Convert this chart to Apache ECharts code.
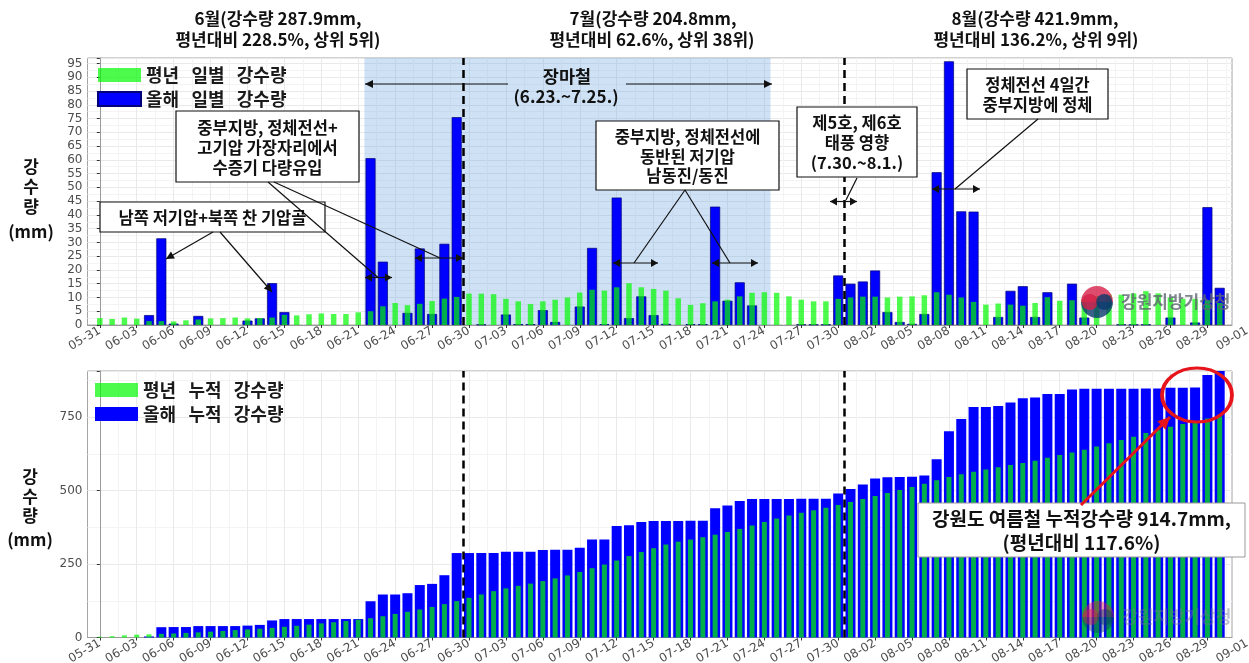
<!DOCTYPE html>
<html><head><meta charset="utf-8">
<script src="https://cdn.jsdelivr.net/npm/echarts@6.0.0/dist/echarts.min.js"></script>
<style>html,body{margin:0;padding:0;background:#fff}#c{width:1249px;height:663px}</style>
</head><body><div id="c"></div>
<script>
// ---------------- data ----------------
const dates = ['05-31',
 '06-01','06-02','06-03','06-04','06-05','06-06','06-07','06-08','06-09','06-10','06-11','06-12','06-13','06-14','06-15',
 '06-16','06-17','06-18','06-19','06-20','06-21','06-22','06-23','06-24','06-25','06-26','06-27','06-28','06-29','06-30',
 '07-01','07-02','07-03','07-04','07-05','07-06','07-07','07-08','07-09','07-10','07-11','07-12','07-13','07-14','07-15',
 '07-16','07-17','07-18','07-19','07-20','07-21','07-22','07-23','07-24','07-25','07-26','07-27','07-28','07-29','07-30','07-31',
 '08-01','08-02','08-03','08-04','08-05','08-06','08-07','08-08','08-09','08-10','08-11','08-12','08-13','08-14','08-15',
 '08-16','08-17','08-18','08-19','08-20','08-21','08-22','08-23','08-24','08-25','08-26','08-27','08-28','08-29','08-30'];
const tickLabels = ['05-31','06-03','06-06','06-09','06-12','06-15','06-18','06-21','06-24','06-27','06-30',
 '07-03','07-06','07-09','07-12','07-15','07-18','07-21','07-24','07-27','07-30',
 '08-02','08-05','08-08','08-11','08-14','08-17','08-20','08-23','08-26','08-29','09-01'];
// 올해 일별 강수량 (mm)
const thisYearDaily = [
 0,0,0,0,3.6,31.5,0.5,0,3.3,0,0,0,1.6,2.4,15.2,4.7,0,0,0,0,0,0,60.6,23.0,0,4.4,27.8,4.0,29.5,75.5,
 0,0.2,0,3.8,0.3,0.3,5.4,1.1,0,6.7,28.0,0.3,46.3,2.5,10.4,3.6,0.4,0,0.3,0.3,43.0,8.8,15.5,7.1,0,0,0,0.2,0.2,0.2,18.0,
 15.0,15.8,19.8,4.7,1.1,0.4,4.0,55.5,95.8,41.3,41.2,0,2.9,12.4,14.1,2.9,11.9,0,15.0,2.7,0,0,0.2,0.2,0.2,0,2.7,0,0.9,42.8,13.5];
// 평년 일별 강수량 (mm)
const normalDaily = [
 2.5,2.2,2.7,2.3,1.4,1.4,1.3,1.7,2.0,2.4,2.5,2.7,2.4,2.5,2.7,3.7,3.5,3.9,4.2,4.0,4.0,4.6,5.0,6.8,8.0,7.2,7.7,8.7,9.6,10.2,
 11.4,11.4,11.2,9.5,8.6,7.6,8.6,9.2,10.0,11.8,12.8,12.5,13.7,15.2,13.7,13.1,12.5,9.7,7.3,7.9,8.6,9.2,10.4,11.7,11.9,11.7,10.4,9.2,8.6,8.6,9.5,
 10.0,10.3,10.3,10.0,10.3,10.4,10.8,11.9,11.0,10.0,8.4,7.4,7.8,7.4,7.0,8.0,10.1,8.8,9.0,9.5,10.5,11.0,11.0,11.5,12.3,11.5,10.0,9.5,9.5,9.0,8.0];
const rainySeason = ['06-22','07-24'];
const monthEnds = ['06-29','07-30'];
const names = {
  nDaily:'평년   일별   강수량', yDaily:'올해   일별   강수량',
  nCum:'평년   누적   강수량', yCum:'올해   누적   강수량'
};

// ---------------- derived ----------------
const cum = arr => { let s = 0; return arr.map(v => +(s += v).toFixed(1)); };
const thisYearCum = cum(thisYearDaily);
const normalCum = cum(normalDaily);
const pts = arr => arr.map((v, i) => [i, v === 0 ? null : v]);
const tickPos = tickLabels.map((_, k) => 3 * k);
const minorPos = tickPos.map(p => p + 1.5);
const xMin = -1, xMax = dates.length;
const ms = monthEnds.map(d => ({xAxis: dates.indexOf(d) + 0.5}));
const rs = [[{xAxis: dates.indexOf(rainySeason[0]) - 0.5}, {xAxis: dates.indexOf(rainySeason[1]) + 0.5}]];

const FONT_K = "'Noto Sans CJK KR','Noto Sans',sans-serif";
const FONT_N = "'DejaVu Sans',sans-serif";
const BLUE = '#0000ff';
const GREEN = 'rgba(0,250,0,0.7)';

function xMain(g) {
  return {type:'value', gridIndex:g, min:xMin, max:xMax, position:'bottom',
    axisLine:{show:true, onZero:false, lineStyle:{color:'#9a9a9a'}},
    axisTick:{show:true, length:3, lineStyle:{color:'#333'}, customValues:tickPos},
    axisLabel:{customValues:tickPos, rotate:30, margin:5, fontFamily:FONT_N, fontSize:12, color:'#4d4d4d',
      formatter: v => tickLabels[Math.round(v / 3)] || ''},
    splitLine:{show:true, lineStyle:{color:'#e9e9e9', width:1}}};
}
function xAux(g) {
  return {type:'value', gridIndex:g, min:xMin, max:xMax, position:'top',
    axisLine:{show:false}, axisTick:{show:false, customValues:minorPos}, axisLabel:{show:false},
    splitLine:{show:true, lineStyle:{color:'#f3f3f3', width:1}}};
}
function yAx(g, max, interval) {
  return {type:'value', gridIndex:g, min:0, max:max, interval:interval,
    axisLine:{show:true, lineStyle:{color:'#9a9a9a'}},
    axisTick:{show:true, length:3, lineStyle:{color:'#333'}},
    axisLabel:{margin:5, fontFamily:FONT_N, fontSize:12, color:'#4d4d4d',
      formatter: v => (Math.abs(v / interval - Math.round(v / interval)) < 1e-6 ? String(v) : '')},
    splitLine:{show:true, lineStyle:{color:'#e9e9e9'}},
    minorTick:{show:false, splitNumber:2},
    minorSplitLine:{show:true, lineStyle:{color:'#f4f4f4'}}};
}
const legendBase = {orient:'vertical', icon:'rect', itemWidth:43, itemHeight:14, itemGap:6,
  textStyle:{fontSize:18, fontWeight:'bold', color:'#1a1a1a', fontFamily:FONT_K}, selectedMode:false};

const chart = echarts.init(document.getElementById('c'), null, {renderer:'canvas'});
chart.setOption({
  animation:false,
  textStyle:{fontFamily:FONT_K},
  grid:[
    {left:87.5, right:17, top:58, bottom:338, show:true, borderColor:'#a5a5a5', borderWidth:1, outerBoundsMode:'none'},
    {left:87.5, right:17, top:371, bottom:25.5, show:true, borderColor:'#a5a5a5', borderWidth:1, outerBoundsMode:'none'}
  ],
  xAxis:[xMain(0), xAux(0), xMain(1), xAux(1)],
  yAxis:[yAx(0, 97, 5), yAx(1, 'dataMax', 250)],
  legend:[
    Object.assign({}, legendBase, {data:[names.nDaily, names.yDaily], left:92, top:61}),
    Object.assign({}, legendBase, {data:[names.nCum, names.yCum], left:90, top:376})
  ],
  series:[
    {type:'line', xAxisIndex:0, yAxisIndex:0, data:[], z:1, silent:true,
      markArea:{silent:true, itemStyle:{color:'rgba(110,165,225,0.33)'}, data:rs}},
    {name:names.yDaily, type:'bar', xAxisIndex:0, yAxisIndex:0, data:pts(thisYearDaily), barWidth:10, z:3,
      itemStyle:{color:BLUE, borderColor:'#00007a', borderWidth:0.7},
      markLine:{silent:true, symbol:['none','none'], label:{show:false}, lineStyle:{color:'#000', type:[8,5], width:2.5}, data:ms}},
    {name:names.nDaily, type:'bar', xAxisIndex:1, yAxisIndex:0, data:pts(normalDaily), barWidth:5.5, z:4,
      itemStyle:{color:GREEN}},
    {name:names.yCum, type:'bar', xAxisIndex:2, yAxisIndex:1, data:pts(thisYearCum), barWidth:10, z:3,
      itemStyle:{color:BLUE},
      markLine:{silent:true, symbol:['none','none'], label:{show:false}, lineStyle:{color:'#000', type:[8,5], width:2.5}, data:ms}},
    {name:names.nCum, type:'bar', xAxisIndex:3, yAxisIndex:1, data:pts(normalCum), barWidth:5, z:4,
      itemStyle:{color:GREEN}}
  ]
});

// ---------------- annotations ----------------
const G = [];
function txt(x, y, text, o) {
  o = o || {};
  G.push({type:'text', x:x, y:y, z:120, rotation:o.rot || 0, style:{text:text, align:o.align || 'center', verticalAlign:o.va || 'middle',
    fontSize:o.size || 16.5, fontWeight:o.weight || 'bold', fontFamily:o.family || FONT_K, fill:o.color || '#111',
    lineHeight:o.lh || 20, opacity:o.opacity == null ? 1 : o.opacity}});
}
function box(x, y, w, h, text, o) {
  o = o || {};
  G.push({type:'rect', z:110, shape:{x:x, y:y, width:w, height:h}, style:{fill:'#fff', stroke:o.stroke || '#111', lineWidth:o.lw || 1.2}});
  txt(x + w / 2, y + h / 2 + 1, text, o);
}
function arrow(x1, y1, x2, y2, o) {
  o = o || {};
  const c = o.color || '#111', lw = o.lw || 1.2, hl = o.hl || 8, hw = o.hw || 4;
  G.push({type:'line', z:115, shape:{x1:x1, y1:y1, x2:x2, y2:y2}, style:{stroke:c, lineWidth:lw}});
  const head = (xa, ya, xb, yb) => {
    const dx = xb - xa, dy = yb - ya, L = Math.hypot(dx, dy), ux = dx / L, uy = dy / L;
    const bx = xb - ux * hl, by = yb - uy * hl;
    G.push({type:'polygon', z:116, shape:{points:[[xb, yb], [bx - uy * hw, by + ux * hw], [bx + uy * hw, by - ux * hw]]}, style:{fill:c}});
  };
  if (o.end) head(x1, y1, x2, y2);
  if (o.start) head(x2, y2, x1, y1);
}
function logo(cx, cy, r, textColor, op) {
  G.push({type:'sector', z:105, shape:{cx:cx, cy:cy, r:r, r0:0, startAngle:Math.PI, endAngle:2 * Math.PI}, style:{fill:'#d6204a', opacity:op}});
  G.push({type:'sector', z:105, shape:{cx:cx, cy:cy, r:r, r0:0, startAngle:0, endAngle:Math.PI}, style:{fill:'#0b3a6e', opacity:op}});
  G.push({type:'circle', z:106, shape:{cx:cx - r * 0.45, cy:cy, r:r * 0.5}, style:{fill:'#d6204a', opacity:op}});
  G.push({type:'circle', z:106, shape:{cx:cx + r * 0.45, cy:cy, r:r * 0.5}, style:{fill:'#0b3a6e', opacity:op}});
  txt(cx + 24, cy, '강원지방기상청', {align:'left', size:17, weight:'bold', color:textColor, opacity:op});
}

// headers
txt(278, 19, '6월(강수량 287.9mm,', {size:17});
txt(278, 40, '평년대비 228.5%, 상위 5위)', {size:17});
txt(653, 19, '7월(강수량 204.8mm,', {size:17});
txt(652, 40, '평년대비 62.6%, 상위 38위)', {size:17});
txt(1035, 19, '8월(강수량 421.9mm,', {size:17});
txt(1036, 40, '평년대비 136.2%, 상위 9위)', {size:17});

// y-axis titles
[['강', 167], ['수', 187], ['량', 207], ['(mm)', 232]].forEach(a => txt(31, a[1], a[0], {size:17}));
[['강', 477], ['수', 497], ['량', 516], ['(mm)', 540]].forEach(a => txt(30, a[1], a[0], {size:17}));

// rainy season
txt(567, 76, '장마철', {size:17.5});
txt(566, 97, '(6.23.~7.25.)', {size:17});
arrow(508, 84, 365, 84, {end:true, lw:1.2});
arrow(626, 84, 772, 84, {end:true, lw:1.2});

// callouts top chart
arrow(268, 182, 378, 277.5, {});
arrow(274, 182, 440, 258, {});
arrow(365, 277.5, 392, 277.5, {start:true, end:true, hl:7});
arrow(415, 258, 463, 258, {start:true, end:true, hl:7});
box(176, 111, 183, 71, '중부지방, 정체전선+\n고기압 가장자리에서\n수증기 다량유입');

arrow(213, 232, 166, 259, {end:true});
arrow(220, 232, 272, 292, {end:true});
box(100, 202, 225, 30, '남쪽 저기압+북쪽 찬 기압골');

arrow(685, 190, 634, 263, {});
arrow(685, 190, 730, 263, {});
arrow(613, 263, 658, 263, {start:true, end:true, hl:7});
arrow(712, 263, 758, 263, {start:true, end:true, hl:7});
box(596, 121, 183, 69, '중부지방, 정체전선에\n동반된 저기압\n남동진/동진', {lh:19.5});

arrow(857, 178, 846, 200, {});
arrow(830, 201.5, 857, 201.5, {start:true, end:true, hl:7});
box(797, 107, 120, 70, '제5호, 제6호\n태풍 영향\n(7.30.~8.1.)');

arrow(1038, 119, 955, 189, {});
arrow(932, 189, 980, 189, {start:true, end:true, hl:7});
box(967, 69, 141, 50, '정체전선 4일간\n중부지방에 정체');

// watermarks
logo(1097, 302, 16, '#5f6670', 0.8);
logo(1098, 617, 16, '#6d7590', 0.45);

// bottom chart annotations
G.push({type:'circle', z:118, x:1197, y:395, scaleX:35 / 27, shape:{cx:0, cy:0, r:27}, style:{fill:'none', stroke:'#e8141c', lineWidth:3, strokeNoScale:true}});
arrow(1081, 505, 1170, 417, {end:true, color:'#e8141c', lw:3, hl:12, hw:6});
box(918, 503, 327, 54, '강원도 여름철 누적강수량 914.7mm,\n(평년대비 117.6%)', {size:19, lh:24, stroke:'#999', lw:1});

// axis label just beyond the right edge (09-01)
[[0, 0], [2, 1]].forEach(([xi, yi]) => {
  const p = chart.convertToPixel({xAxisIndex:xi, yAxisIndex:yi}, [3 * (tickLabels.length - 1), 0]);
  txt(p[0] + 3, p[1] + 5, tickLabels[tickLabels.length - 1], {align:'right', va:'middle', size:12, weight:'normal', family:FONT_N, color:'#4d4d4d', rot:Math.PI / 6});
});

chart.setOption({graphic:{elements:G}});
</script>
</body></html>
